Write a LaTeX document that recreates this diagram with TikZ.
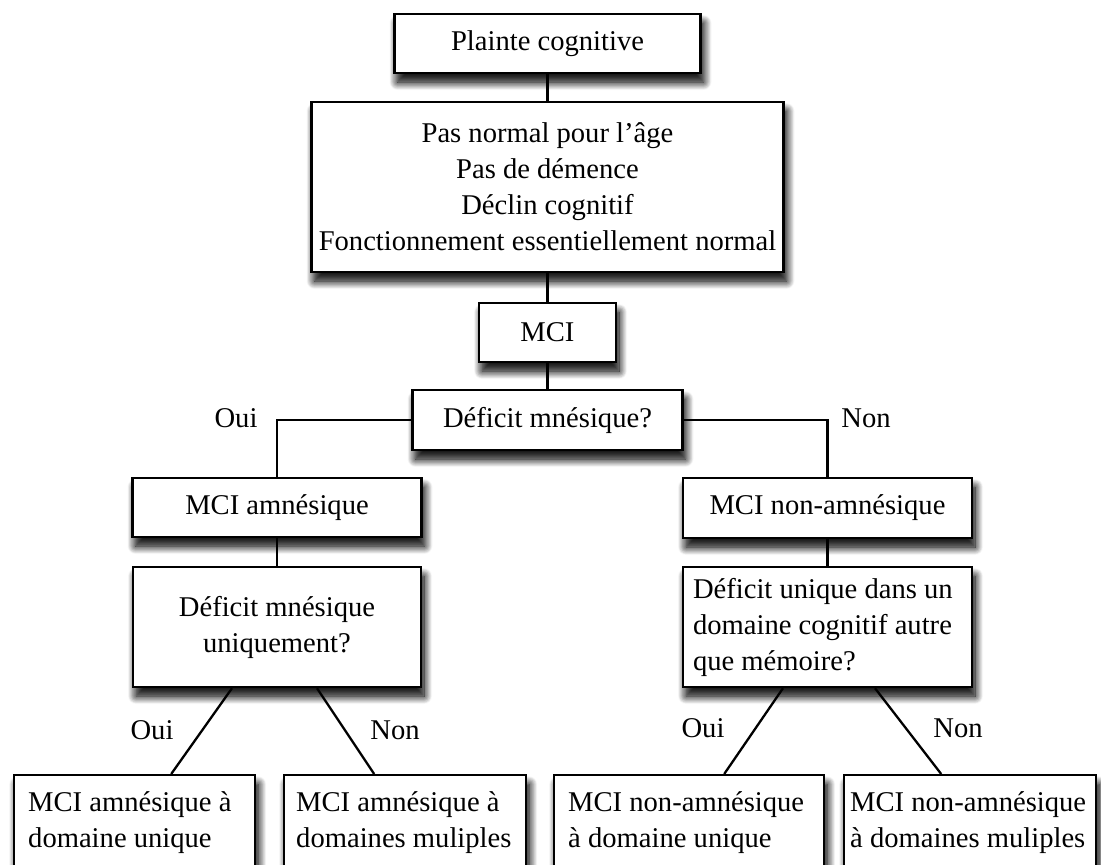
\documentclass[tikz,border=0pt]{standalone}
\usepackage{fontspec}
\setmainfont{Liberation Serif}
\usepackage{tikz}
\usetikzlibrary{calc,shadows.blur}
\definecolor{inkbox}{RGB}{0,0,0}

\begin{document}
\begin{tikzpicture}[x=1pt,y=-1pt,
    box/.style={draw=inkbox,line width=2.4pt,fill=white,inner sep=0pt,
      font=\fontsize{28.6}{36}\selectfont,
      blur shadow={shadow xshift=3pt,shadow yshift=-12pt,shadow blur radius=12pt,
        shadow blur steps=14,shadow opacity=95},
      blur shadow={shadow xshift=3pt,shadow yshift=-9pt,shadow blur radius=8pt,
        shadow blur steps=10,shadow opacity=70}},
    leaf/.style={box,anchor=north west,minimum height=95pt,align=flush left},
    tag/.style={font=\fontsize{28.6}{36}\selectfont},
    link/.style={draw=inkbox,line width=2.3pt}]
  \useasboundingbox (0,0) rectangle (1101,865);
  \clip (0,0) rectangle (1101,865);
  % ---- trunk
  \node[box,minimum width=306pt,minimum height=59pt] (plainte) at (547.5,43.5) {Plainte cognitive};
  \node[box,minimum width=472pt,minimum height=170pt,align=center] (crit) at (547.5,187)
      {Pas normal pour l’âge\\Pas de démence\\Déclin cognitif\\Fonctionnement essentiellement normal};
  \node[box,minimum width=137pt,minimum height=59pt] (mci) at (547.5,332.5) {MCI};
  \node[box,minimum width=270pt,minimum height=60pt] (defMem) at (547.5,420) {Déficit mnésique?};
  % ---- two branches
  \node[box,minimum width=289pt,minimum height=59pt] (amn) at (277,507.5) {MCI amnésique};
  \node[box,minimum width=289pt,minimum height=60pt] (nonAmn) at (827.5,508) {MCI non-amnésique};
  \node[box,minimum width=288pt,minimum height=120pt,align=center] (amnQ) at (277,627)
      {Déficit mnésique\\uniquement?};
  \node[box,text width=269pt,inner xsep=10pt,minimum height=120pt,align=flush left] (nonAmnQ) at (827.5,627)
      {Déficit unique dans un\\domaine cognitif autre\\que mémoire?};
  % ---- leaves
  \node[leaf,text width=213pt,inner xsep=14pt] (leafA) at (13,774) {MCI amnésique à\\domaine unique};
  \node[leaf,text width=218pt,inner xsep=12pt] (leafB) at (283,774) {MCI amnésique à\\domaines muliples};
  \node[leaf,text width=242pt,inner xsep=14pt] (leafC) at (553,774) {MCI non-amnésique\\à domaine unique};
  \node[leaf,text width=240pt,inner xsep=6pt] (leafD) at (843,774) {MCI non-amnésique\\à domaines muliples};
  % ---- answers
  \node[tag] (oui0) at (236,418) {Oui};
  \node[tag] (non0) at (866,418) {Non};
  \node[tag] (oui1) at (152,730) {Oui};
  \node[tag] (non1) at (395,730) {Non};
  \node[tag] (oui2) at (703,728) {Oui};
  \node[tag] (non2) at (958,728) {Non};
  % ---- connectors
  \draw[link] (plainte.south) -- (crit.north);
  \draw[link] (crit.south) -- (mci.north);
  \draw[link] (mci.south) -- (defMem.north);
  \draw[link] (defMem.west) -| (amn.north);
  \draw[link] (defMem.east) -| (nonAmn.north);
  \draw[link] (amn.south) -- (amnQ.north);
  \draw[link] (nonAmn.south) -- (nonAmnQ.north);
  \draw[link] ([xshift=-45pt]amnQ.south) -- ([xshift=36.5pt]leafA.north);
  \draw[link] ([xshift=40pt]amnQ.south) -- ([xshift=-31pt]leafB.north);
  \draw[link] ([xshift=-44.5pt]nonAmnQ.south) -- ([xshift=35pt]leafC.north);
  \draw[link] ([xshift=47.5pt]nonAmnQ.south) -- ([xshift=-29pt]leafD.north);
\end{tikzpicture}
\end{document}
